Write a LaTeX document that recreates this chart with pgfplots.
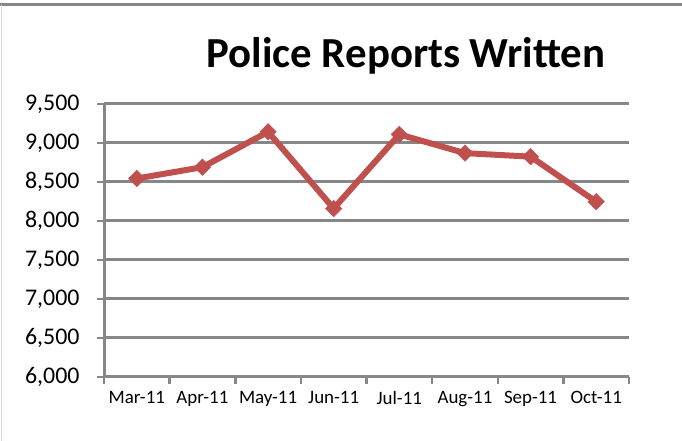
\documentclass[border=0pt]{standalone}
\usepackage{fontspec}
\setmainfont{Carlito}
\usepackage{pgfplots}
\pgfplotsset{compat=1.18}
\definecolor{linered}{HTML}{C0504D}
\definecolor{gridgray}{HTML}{878787}
\begin{document}
\begin{tikzpicture}[x=1bp,y=1bp]
\path[use as bounding box] (0,0) rectangle (682,441);
\draw[gridgray, line width=3bp] (0,436) -- (682,436);
\draw[black!15, line width=1bp] (1,0) -- (1,436);
\node[font=\bfseries\fontsize{43}{46}\selectfont, anchor=base, inner sep=0pt] at (406,373) {Police Reports Written};
\begin{axis}[
    at={(104bp,64bp)}, anchor=south west,
    scale only axis, width=525bp, height=273bp,
    xmin=-0.5, xmax=7.5,
    ymin=6000, ymax=9500,
    ytick={6000,6500,...,9500},
    xtick={0,...,7},
    xticklabels={Mar-11,Apr-11,May-11,Jun-11,Jul-11,Aug-11,Sep-11,Oct-11},
    minor xtick={-0.5,0.5,...,7.5},
    major x tick style={draw=none},
    tick align=outside,
    major tick length=7bp, minor tick length=7bp,
    every tick/.style={gridgray, line width=2.5bp},
    ymajorgrids,
    grid style={gridgray, line width=3bp},
    axis line style={gridgray, line width=3bp},
    axis x line*=bottom, axis y line*=left,
    separate axis lines,
    x axis line style={-}, y axis line style={-},
    xticklabel style={font=\fontsize{19}{21}\selectfont, yshift=-4bp},
    yticklabel style={font=\fontsize{24}{26}\selectfont, xshift=-14bp},
    /pgf/number format/assume math mode=true,
    /pgf/number format/1000 sep={,},
    clip=false,
]
\addplot[linered, line width=6bp, mark=square*, mark size=5.8bp, mark options={solid, fill=linered, line width=0.5bp, rotate=45}]
  coordinates {(0,8545) (1,8690) (2,9143) (3,8160) (4,9110) (5,8870) (6,8825) (7,8247)};
\end{axis}
\end{tikzpicture}
\end{document}
